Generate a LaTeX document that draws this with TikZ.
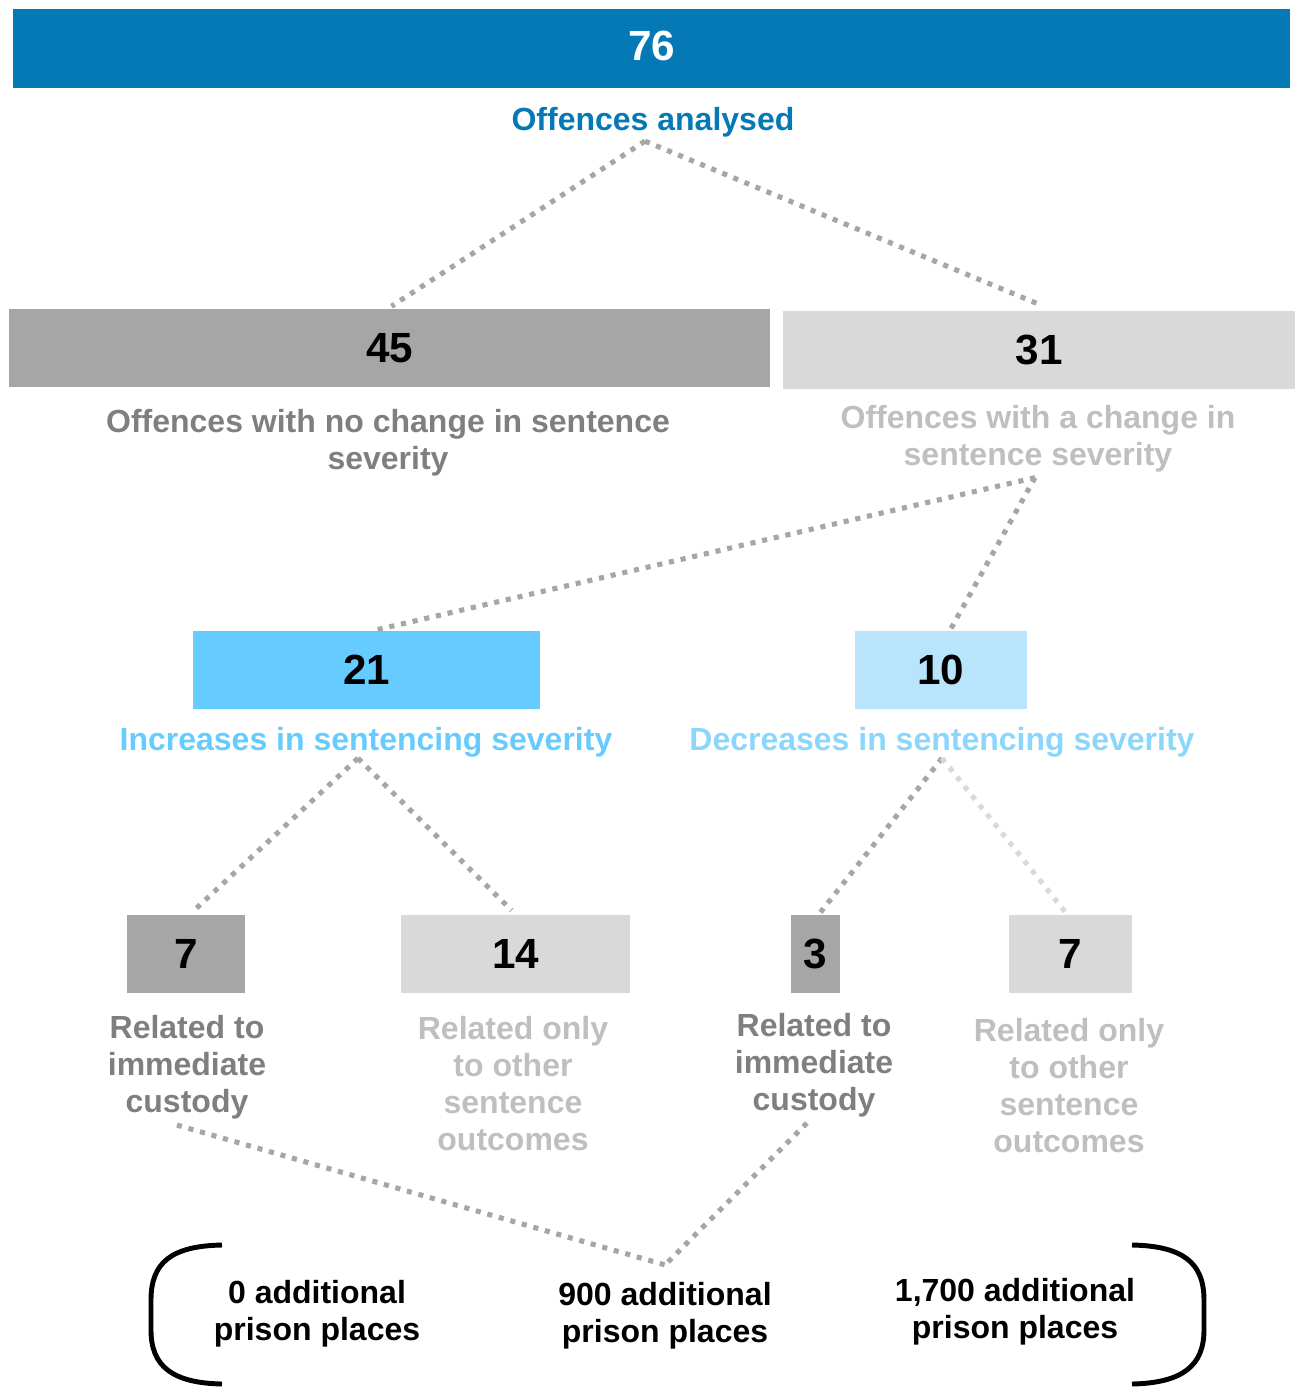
\documentclass[tikz,border=0pt]{standalone}
\usepackage{fontspec}
\setmainfont{Liberation Sans}
\usetikzlibrary{positioning}

\definecolor{topblue}{RGB}{5,121,182}
\definecolor{upblue}{RGB}{102,204,255}
\definecolor{downbox}{RGB}{185,229,252}
\definecolor{downtext}{RGB}{139,214,252}
\definecolor{darkbox}{RGB}{166,166,166}
\definecolor{lightbox}{RGB}{217,217,217}
\definecolor{darktext}{RGB}{127,127,127}
\definecolor{lighttext}{RGB}{191,191,191}

\begin{document}
\begin{tikzpicture}[x=0.01cm,y=-0.01cm,
    numbox/.style={inner sep=0pt,minimum height=0.78cm,font=\fontsize{12}{14}\selectfont\bfseries},
    caption/.style={inner sep=1pt,align=center,font=\fontsize{9.1}{10.5}\selectfont\bfseries},
    link/.style={line width=1.45pt,dash pattern=on 1.45pt off 1.95pt,draw=darkbox},
    bracket/.style={line width=1.4pt,black}]
  \useasboundingbox (0,0) rectangle (1295,1387);

  % number boxes
  \node[numbox,fill=topblue,text=white,minimum width=12.77cm] (n76) at (651.5,48.5) {\raisebox{0.06cm}{76}};
  \node[numbox,fill=darkbox,minimum width=7.61cm] (n45) at (389.5,348) {45};
  \node[numbox,fill=lightbox,minimum width=5.12cm] (n31) at (1039,350) {31};
  \node[numbox,fill=upblue,minimum width=3.47cm] (n21) at (366.5,670) {21};
  \node[numbox,fill=downbox,minimum width=1.72cm] (n10) at (941,670) {10};
  \node[numbox,fill=darkbox,minimum width=1.18cm] (n7a) at (186,954) {7};
  \node[numbox,fill=lightbox,minimum width=2.29cm] (n14) at (515.5,954) {14};
  \node[numbox,fill=darkbox,minimum width=0.49cm] (n3) at (815.5,954) {3};
  \node[numbox,fill=lightbox,minimum width=1.23cm] (n7b) at (1070.5,954) {7};

  % captions
  \node[caption,text=topblue] (c76) at (653,122) {Offences analysed};
  \node[caption,text=darktext] (c45) at (388,443) {Offences with no change in sentence\\severity};
  \node[caption,text=lighttext] (c31) at (1038,439) {Offences with a change in\\sentence severity};
  \node[caption,text=upblue] (c21) at (366,742) {Increases in sentencing severity};
  \node[caption,text=downtext] (c10) at (942,742) {Decreases in sentencing severity};
  \node[caption,text=darktext] (c7a) at (187,1067) {Related to\\immediate\\custody};
  \node[caption,text=lighttext] (c14) at (513,1083.5) {Related only\\to other\\sentence\\outcomes};
  \node[caption,text=darktext] (c3) at (814,1065) {Related to\\immediate\\custody};
  \node[caption,text=lighttext] (c7b) at (1069,1085.5) {Related only\\to other\\sentence\\outcomes};

  % prison places
  \node[caption,text=black] (p0) at (317,1313.5) {0 additional\\prison places};
  \node[caption,text=black] (p900) at (665,1315.5) {900 additional\\prison places};
  \node[caption,text=black] (p1700) at (1015,1311.5) {1,700 additional\\prison places};

  % dotted links
  \draw[link] ([xshift=-0.08cm,yshift=0cm]c76.south) -- ([xshift=0.02cm,yshift=0.02cm]n45.north);
  \draw[link] ([xshift=-0.08cm,yshift=0cm]c76.south) -- ([yshift=0.06cm]n31.north);
  \draw[link] ([xshift=-0.03cm,yshift=-0.01cm]c31.south) -- ([xshift=0.08cm]n21.north);
  \draw[link] ([xshift=-0.03cm,yshift=-0.01cm]c31.south) -- ([xshift=0.09cm]n10.north);
  \draw[link] ([xshift=-0.08cm,yshift=0.03cm]c21.south) -- ([xshift=0.06cm,yshift=0.02cm]n7a.north);
  \draw[link] ([xshift=-0.08cm,yshift=0.03cm]c21.south) -- ([xshift=-0.04cm,yshift=0.04cm]n14.north);
  \draw[link] ([yshift=0.03cm]c10.south) -- ([xshift=0.05cm,yshift=0.02cm]n3.north);
  \draw[link,draw=lightbox] ([yshift=0.03cm]c10.south) -- ([xshift=-0.05cm,yshift=0.02cm]n7b.north);
  \draw[link] ([xshift=-0.1cm,yshift=-0.02cm]c7a.south) -- ([yshift=0.13cm]p900.north);
  \draw[link] ([xshift=-0.07cm,yshift=-0.02cm]c3.south) -- ([yshift=0.13cm]p900.north);

  % brackets round the outcomes
  \draw[bracket] (222,1245) .. controls (172,1246) and (151,1262) .. (151,1300)
    -- (151,1330) .. controls (151,1366) and (172,1383) .. (222,1384);
  \draw[bracket] (1132,1245) .. controls (1182,1246) and (1204,1262) .. (1204,1300)
    -- (1204,1330) .. controls (1204,1366) and (1182,1383) .. (1132,1384);
\end{tikzpicture}
\end{document}
